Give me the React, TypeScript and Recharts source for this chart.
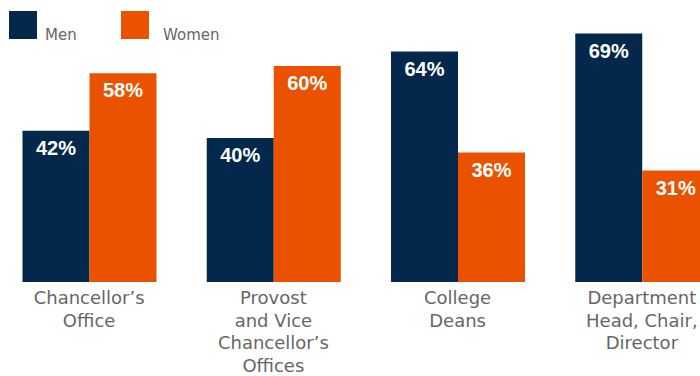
import { BarChart, Bar, XAxis, YAxis, LabelList } from 'recharts';

const categories = [
  'Chancellor’s\nOffice',
  'Provost\nand Vice\nChancellor’s\nOffices',
  'College\nDeans',
  'Department\nHead, Chair,\nDirector',
];
const menValues = [42, 40, 64, 69];
const womenValues = [58, 60, 36, 31];

const data = categories.map((name, i) => ({
  name,
  men: menValues[i],
  women: womenValues[i],
}));

const NAVY = '#03284C';
const ORANGE = '#EA5200';
const GRAY = '#666666';

function CategoryTick(props: any) {
  const { x, y, payload } = props;
  const lines = String(payload.value).split('\n');
  return (
    <text
      x={x}
      y={y + 14}
      textAnchor="middle"
      fill={GRAY}
      style={{ fontFamily: '"DejaVu Sans", Verdana, sans-serif', fontSize: 18 }}
    >
      {lines.map((line, i) => (
        <tspan key={i} x={x} dy={i === 0 ? 0 : 22.5}>
          {line}
        </tspan>
      ))}
    </text>
  );
}

const pct = (v: any) => `${v}%`;
const labelStyle = { fontFamily: '"Liberation Sans", Arial, sans-serif', fontSize: 20, fontWeight: 'bold' };

export default function App() {
  return (
    <div
      style={{
        position: 'absolute',
        left: 0,
        top: 0,
        width: 700,
        height: 376,
        overflow: 'hidden',
        background: '#fff',
      }}
    >
      <div style={{ marginLeft: -3 }}>
        <BarChart
          width={737}
          height={376}
          data={data}
          margin={{ top: 30, right: 0, left: 0, bottom: 0 }}
          barCategoryGap={25.5}
          barGap={0}
        >
          <XAxis
            dataKey="name"
            axisLine={false}
            tickLine={false}
            height={94}
            interval={0}
            tick={<CategoryTick />}
          />
          <YAxis hide domain={[0, 70]} />
          <Bar dataKey="men" fill={NAVY} isAnimationActive={false}>
            <LabelList dataKey="men" position="insideTop" offset={10} formatter={pct} fill="#fff" style={labelStyle} />
          </Bar>
          <Bar dataKey="women" fill={ORANGE} isAnimationActive={false}>
            <LabelList dataKey="women" position="insideTop" offset={10} formatter={pct} fill="#fff" style={labelStyle} />
          </Bar>
        </BarChart>
      </div>
      {/* legend */}
      <div style={{ position: 'absolute', left: 9, top: 11, width: 28, height: 28, background: NAVY }} />
      <div
        style={{
          position: 'absolute',
          left: 45,
          top: 25,
          fontFamily: '"DejaVu Sans", Verdana, sans-serif',
          fontSize: 15,
          color: GRAY,
          lineHeight: '20px',
        }}
      >
        Men
      </div>
      <div style={{ position: 'absolute', left: 121, top: 11, width: 28, height: 28, background: ORANGE }} />
      <div
        style={{
          position: 'absolute',
          left: 163,
          top: 25,
          fontFamily: '"DejaVu Sans", Verdana, sans-serif',
          fontSize: 15,
          color: GRAY,
          lineHeight: '20px',
        }}
      >
        Women
      </div>
    </div>
  );
}
